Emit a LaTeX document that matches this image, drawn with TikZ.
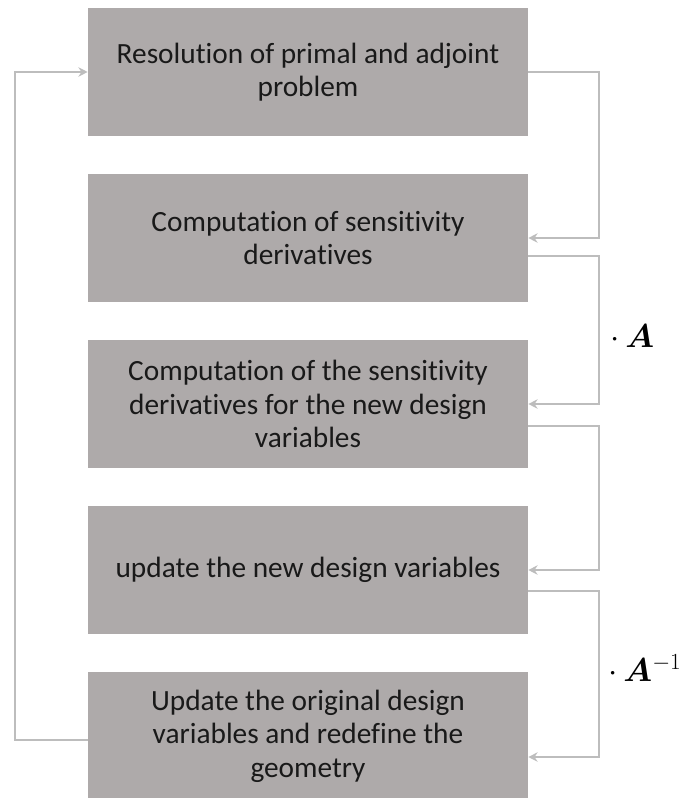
\documentclass[tikz,border=0pt]{standalone}
\usepackage{amsmath}
\usepackage{bm}
\usepackage{fontspec}
\setmainfont{Carlito}[Ligatures=NoCommon]
\usepackage{xcolor}
\usepackage{tikz}
\usetikzlibrary{arrows.meta,calc}
\definecolor{boxgray}{HTML}{AEAAAA}
\definecolor{linegray}{HTML}{BDBDBD}

\begin{document}
\begin{tikzpicture}[x=0.75pt,y=-0.75pt,
		stepbox/.style={fill=boxgray,minimum width=330pt,minimum height=96pt,inner sep=0pt,
			align=center,font=\fontsize{22}{25}\selectfont,text=black!90},
		link/.style={draw=linegray,line width=1.6pt,-{Stealth[length=7pt,width=7pt]}},
		factor/.style={anchor=west,font=\fontsize{24}{28}\selectfont}]
			\useasboundingbox (0,0) rectangle (681,798);
			\node[stepbox] (res) at (308,72) {Resolution of primal and adjoint\\problem};
			\node[stepbox] (sens) at (308,238) {Computation of sensitivity\\derivatives};
			\node[stepbox] (newsens) at (308,404) {Computation of the sensitivity\\derivatives for the new design\\variables};
			\node[stepbox] (upnew) at (308,570) {update the new design variables};
			\node[stepbox] (uporig) at (308,736) {Update the original design\\variables and redefine the\\geometry};
			\draw[link] (res.east) -- ++(71,0) |- (sens.east);
			\draw[link] ($(sens.east)+(0,18)$) -- ++(71,0) |- (newsens.east);
			\draw[link] ($(newsens.east)+(0,22)$) -- ++(71,0) |- (upnew.east);
			\draw[link] ($(upnew.east)+(0,21)$) -- ++(71,0) |- ($(uporig.east)+(0,21)$);
			\draw[link] ($(uporig.west)+(0,4)$) -- ++(-73,0) |- (res.west);
			\node[factor] (fa) at (606,336) {$\cdot\,\boldsymbol{A}$};
			\node[factor] (fainv) at (604,668) {$\cdot\,\boldsymbol{A}^{-1}$};
		\end{tikzpicture}
\end{document}
